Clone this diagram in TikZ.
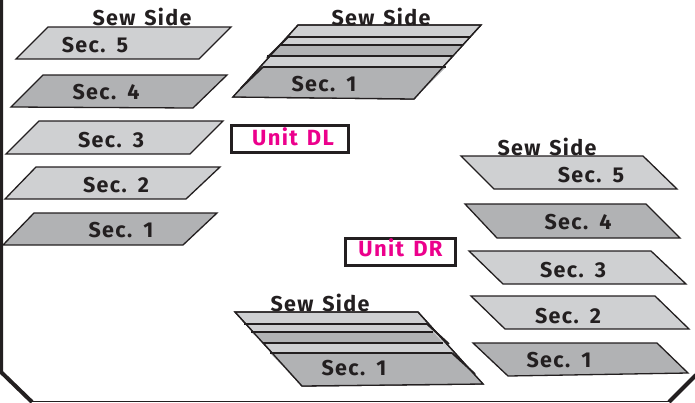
\documentclass[tikz,border=0pt]{standalone}
\usepackage{fontspec}
\setmainfont{Fira Sans}[LetterSpace=6,WordSpace=1.4]
\definecolor{lightsec}{HTML}{CFD0D2}
\definecolor{darksec}{HTML}{B1B2B4}
\definecolor{ink}{HTML}{231F20}
\definecolor{unitpink}{HTML}{EC008C}
\tikzset{
  sec/.style={draw=ink,line width=1.3pt,line join=miter},
  lab/.style={text=ink,font=\fontsize{21.5}{21.5}\selectfont\bfseries,inner sep=0pt},
  unitbox/.style={draw=ink,line width=2.6pt,fill=white,inner sep=0pt,text=unitpink,font=\fontsize{22}{22}\selectfont\bfseries,anchor=center},
  frameline/.style={draw=ink,line width=4pt},
  sepline/.style={draw=ink,line width=1.3pt},
  edgeline/.style={draw=ink,line width=1.8pt}
}
\begin{document}
\begin{tikzpicture}[x=1pt,y=-1pt]
\useasboundingbox (0,0) rectangle (695,402);
% frame
\draw[frameline] (1,0) -- (1,372) -- (32,402);
\draw[draw=ink,line width=1.2pt] (32,401.4) -- (669,401.4);
\draw[frameline] (669,402) -- (696,375);
% left column
\filldraw[sec,fill=lightsec] (48,27) -- (231,27) -- (199,59) -- (16,59) -- cycle;
\filldraw[sec,fill=darksec] (43,75) -- (227,75) -- (193,108) -- (11,107) -- cycle;
\filldraw[sec,fill=lightsec] (39,121) -- (223,121) -- (190,154) -- (6,154) -- cycle;
\filldraw[sec,fill=lightsec] (36,167) -- (220,167) -- (186,199) -- (5,199) -- cycle;
\filldraw[sec,fill=darksec] (34,213) -- (217,213) -- (183,245) -- (3,245) -- cycle;
% upper stack
\filldraw[sec,fill=lightsec] (298,25) -- (481,25) -- (414,99) -- (233,97) -- cycle;
\fill[darksec] (280,45) -- (463,45) -- (453,56) -- (267,56) -- cycle;
\fill[darksec] (263,67) -- (446,67) -- (414,99) -- (233,97) -- cycle;
\draw[sec,fill=none] (298,25) -- (481,25) -- (414,99) -- (233,97) -- cycle;
\draw[sepline] (288,37) -- (471,37);
\draw[sepline] (280,45) -- (463,45);
\draw[sepline] (267,56) -- (453,56);
\draw[sepline] (263,67) -- (446,67);
\draw[edgeline] (288,37) -- (267,58);
\draw[edgeline] (263,67) -- (241,88);
% lower stack
\filldraw[sec,fill=lightsec] (235,312) -- (418,312) -- (483,384) -- (302,386) -- cycle;
\fill[darksec] (251,332) -- (433,332) -- (443,343) -- (263,343) -- cycle;
\fill[darksec] (270,353) -- (452,353) -- (483,384) -- (302,386) -- cycle;
\draw[sec,fill=none] (235,312) -- (418,312) -- (483,384) -- (302,386) -- cycle;
\draw[sepline] (244,324) -- (427,324);
\draw[sepline] (251,332) -- (433,332);
\draw[sepline] (263,343) -- (443,343);
\draw[sepline] (270,353) -- (452,353);
\draw[edgeline] (427,324) -- (449,344);
\draw[edgeline] (452,353) -- (475,374);
% right column
\filldraw[sec,fill=lightsec] (461,156) -- (643,156) -- (677,189) -- (494,189) -- cycle;
\filldraw[sec,fill=darksec] (465,204) -- (646,204) -- (680,238) -- (497,238) -- cycle;
\filldraw[sec,fill=lightsec] (469,251) -- (651,251) -- (686,284) -- (503,284) -- cycle;
\filldraw[sec,fill=lightsec] (471,296) -- (655,296) -- (689,329) -- (505,329) -- cycle;
\filldraw[sec,fill=darksec] (473,343) -- (657,343) -- (688,373) -- (508,376) -- cycle;
% labels
\node[lab] (ss1) at (142,17) {Sew Side};
\node[lab] (ss2) at (381,17) {Sew Side};
\node[lab] (ss3) at (547,147) {Sew Side};
\node[lab] (ss4) at (320,303) {Sew Side};
\node[lab] (l5) at (95,45) {Sec. 5};
\node[lab] (l4) at (106,92) {Sec. 4};
\node[lab] (l3) at (111,140) {Sec. 3};
\node[lab] (l2) at (116,185) {Sec. 2};
\node[lab] (l1) at (121,230) {Sec. 1};
\node[lab] (u1) at (324,84) {Sec. 1};
\node[lab] (d1) at (354,368) {Sec. 1};
\node[lab] (r5) at (591,175) {Sec. 5};
\node[lab] (r4) at (578,222) {Sec. 4};
\node[lab] (r3) at (573,270) {Sec. 3};
\node[lab] (r2) at (568,316) {Sec. 2};
\node[lab] (r1) at (559,360) {Sec. 1};
\node[unitbox,minimum width=117pt,minimum height=27pt] (dl) at (290,139) {\hspace*{6pt}\raisebox{-6.5pt}[8pt][8pt]{Unit DL}};
\node[unitbox,minimum width=110pt,minimum height=27pt] (dr) at (400.5,252) {\raisebox{-4.5pt}[8pt][8pt]{Unit DR}};
\end{tikzpicture}
\end{document}
